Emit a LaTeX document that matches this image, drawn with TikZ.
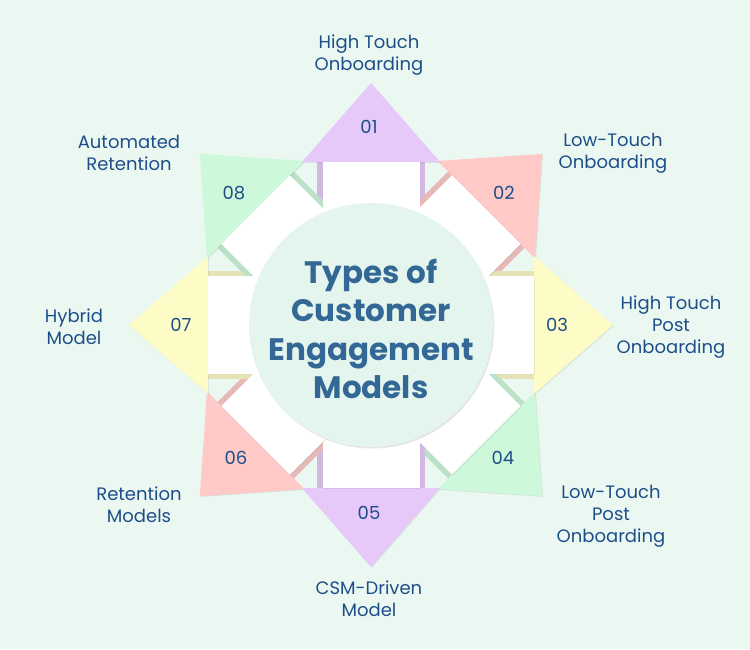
\documentclass[tikz,border=0pt]{standalone}
\usepackage{fontspec}
\setmainfont{Poppins}
\usetikzlibrary{shadows}
\definecolor{bg}{HTML}{EBF8F2}
\definecolor{circ}{HTML}{E4F5ED}
\definecolor{cpurple}{HTML}{E6C8F9}
\definecolor{cpink}{HTML}{FFC9C7}
\definecolor{cyellow}{HTML}{FDFBC6}
\definecolor{cgreen}{HTML}{CDF8DA}
\definecolor{labelc}{HTML}{1D4E89}
\definecolor{titlec}{HTML}{336796}
\tikzset{
  lbl/.style={text=labelc, align=center, font=\fontsize{18}{22}\selectfont},
  num/.style={text=labelc, font=\fontsize{18}{22}\selectfont},
  ttl/.style={text=titlec, align=center, font=\bfseries\fontsize{31}{38.5}\selectfont},
  softshadow/.style={drop shadow={opacity=0.18, shadow xshift=0.8pt, shadow yshift=-0.8pt}},
}
\begin{document}
\begin{tikzpicture}[x=1pt,y=1pt]
\fill[bg] (0,0) rectangle (750,649);
\useasboundingbox (0,0) rectangle (750,649);
\coordinate (C) at (371,324);
% shafts
\foreach \a/\c in {90/cpurple,45/cpink,0/cyellow,-45/cgreen,-90/cpurple,-135/cpink,180/cyellow,135/cgreen}{
  \begin{scope}[shift={(C)},rotate=\a]
    \fill[\c!90!black!95] (95,-54) rectangle (166,54);
  \end{scope}
}
% triangles
\foreach \a/\c in {45/cpink,-45/cgreen,-135/cpink,135/cgreen,0/cyellow,180/cyellow,90/cpurple,-90/cpurple}{
  \begin{scope}[shift={(C)},rotate=\a]
    \fill[\c,softshadow] (163,-69) -- (242,0) -- (163,69) -- cycle;
  \end{scope}
}
% white bars
\foreach \a in {90,45,0,-45,-90,-135,180,135}{
  \begin{scope}[shift={(C)},rotate=\a]
    \fill[white,softshadow] (95,-48.5) rectangle (163,48.5);
  \end{scope}
}
% centre circle
\fill[circ,drop shadow={opacity=0.2, shadow xshift=1.2pt, shadow yshift=-1.5pt}] (C) circle (122);
\node[ttl] (title) at (371,320) {Types of\\Customer\\Engagement\\Models};
% numbers
\node[num] (n1) at (369,522) {01};
\node[num] (n2) at (504,456) {02};
\node[num] (n3) at (557,324) {03};
\node[num] (n4) at (503,191) {04};
\node[num] (n5) at (369,136) {05};
\node[num] (n6) at (236,191) {06};
\node[num] (n7) at (181,324) {07};
\node[num] (n8) at (234,456) {08};
% labels
\node[lbl] (l1) at (369,594) {High Touch\\Onboarding};
\node[lbl] (l2) at (613,496) {Low-Touch\\Onboarding};
\node[lbl] (l3) at (671,322) {High Touch\\Post\\Onboarding};
\node[lbl] (l4) at (611,133) {Low-Touch\\Post\\Onboarding};
\node[lbl] (l5) at (369,50) {CSM-Driven\\Model};
\node[lbl] (l6) at (139,144) {Retention\\Models};
\node[lbl] (l7) at (74,322) {Hybrid\\Model};
\node[lbl] (l8) at (129,496) {Automated\\Retention};
\end{tikzpicture}
\end{document}
